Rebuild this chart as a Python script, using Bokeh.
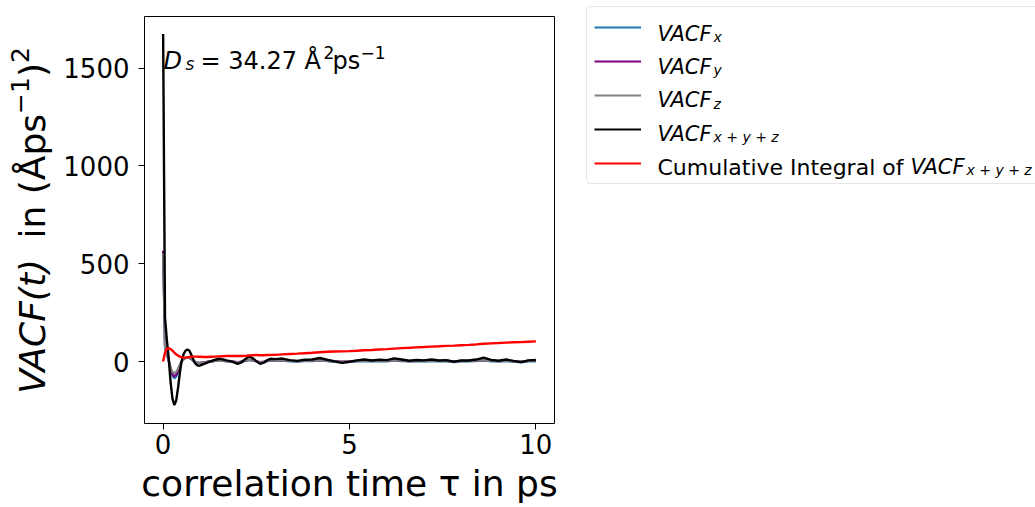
import math

from bokeh.plotting import figure
from bokeh.layouts import row
from bokeh.models import Range1d, FixedTicker, Label, Legend, LegendItem
from bokeh.embed import file_html
from bokeh.resources import INLINE

# correlation time (ps)
tau = [0.00, 0.05, 0.10, 0.15, 0.20, 0.25, 0.30, 0.35, 0.40, 0.45,
       0.50, 0.55, 0.60, 0.65, 0.70, 0.75, 0.80, 0.85, 0.90, 0.95, 1.00,
       1.1, 1.2, 1.3, 1.4, 1.5, 1.6, 1.7, 1.8, 1.9, 2.0,
       2.1, 2.2, 2.3, 2.4, 2.5, 2.6, 2.7, 2.8, 2.9, 3.0,
       3.2, 3.4, 3.6, 3.8, 4.0, 4.2, 4.4, 4.6, 4.8, 5.0,
       5.2, 5.4, 5.6, 5.8, 6.0, 6.2, 6.4, 6.6, 6.8, 7.0,
       7.2, 7.4, 7.6, 7.8, 8.0, 8.2, 8.4, 8.6, 8.8, 9.0,
       9.2, 9.4, 9.6, 9.8, 10.0]

# velocity autocorrelation per Cartesian component, (A/ps)^2
vacf_x = [555, 70, 33, 2, -40, -72, -86, -78, -52, -21,
          1, 13, 19, 21, 19, 13, 5, -2, -6, -8, -7,
          -4, -2, 1, 3, 4, 3, 1, 0, -2, -5,
          -2, 3, 7, 5, 0, -5, -3, 2, 4, 3,
          4, 1, -1, 2, 2, 5, 2, -2, -4, -2,
          1, 2, 0, 2, 1, 4, 2, 0, 2, 1,
          2, 0, 1, -3, 1, 0, 2, 6, 1, 0,
          2, -1, -4, 0, 1]
vacf_y = [567, 82, 40, 7, -35, -64, -77, -68, -46, -19,
          2, 12, 18, 20, 19, 13, 5, -2, -6, -7, -7,
          -4, -1, 1, 3, 6, 5, 3, 1, -1, -3,
          -1, 4, 9, 6, 1, -3, -1, 3, 5, 5,
          6, 3, 2, 4, 4, 7, 4, 2, -1, 1,
          3, 4, 3, 4, 3, 6, 4, 2, 3, 3,
          4, 3, 3, 1, 3, 3, 4, 7, 4, 2,
          4, 2, 0, 3, 4]
vacf_z = [553, 73, 37, 6, -30, -54, -59, -54, -37, -15,
          2, 13, 18, 20, 18, 12, 4, -2, -5, -7, -6,
          -4, -1, 1, 3, 4, 3, 2, 1, -2, -4,
          -1, 5, 9, 6, 1, -4, -2, 3, 5, 4,
          5, 3, 2, 3, 4, 6, 3, 1, -2, 0,
          2, 4, 2, 3, 3, 6, 4, 2, 3, 2,
          4, 2, 3, 1, 2, 2, 4, 7, 3, 2,
          4, 2, 1, 3, 3]
# sum of the three components
vacf_xyz = [1675, 225, 110, 15, -105, -190, -222, -200, -135, -55,
            5, 38, 55, 61, 56, 38, 14, -6, -17, -22, -20,
            -12, -4, 3, 9, 14, 11, 6, 2, -5, -12,
            -4, 12, 25, 17, 2, -12, -6, 8, 14, 12,
            15, 7, 3, 9, 10, 18, 9, 1, -7, -1,
            6, 10, 5, 9, 7, 16, 10, 4, 8, 6,
            10, 5, 7, -1, 6, 5, 10, 20, 8, 4,
            10, 3, -3, 6, 8]
# running integral of vacf_xyz, A^2/ps
cum_int = [0.0, 45.0, 66.0, 68.0, 64.0, 56.0, 46.0, 37.0, 30.0, 25.0,
           22.0, 20.0, 20.0, 21.0, 23.0, 24.0, 25.0, 25.0, 25.0, 24.0, 24.0,
           23.0, 23.0, 24.0, 25.0, 26.0, 27.0, 28.0, 28.0, 28.0, 28.0,
           28.0, 29.0, 31.0, 32.0, 33.0, 32.0, 32.0, 33.0, 34.0, 34.0,
           36.6, 38.6, 40.2, 42.3, 44.5, 47.4, 49.6, 51.0, 51.8, 53.1,
           55.0, 57.3, 59.1, 61.2, 63.2, 66.0, 68.3, 70.0, 72.1, 74.0,
           76.3, 78.1, 80.1, 81.3, 83.2, 85.0, 87.3, 90.5, 92.6, 94.3,
           96.6, 98.2, 99.2, 101.1, 102.81]

x_ticks = [0, 5, 10]
y_ticks = [0, 500, 1000, 1500]

series_colors = ["#1f77b4", "purple", "gray", "black", "red"]

# self-diffusion coefficient, D = (1/3) * integral of the total VACF
d_s = cum_int[-1] / 3.0

FONT = "DejaVu Sans"
W, H = 1035, 507
LEFT_W = 58            # strip holding the y-axis title
MAIN_W = 508           # main plot incl. tick labels and x title
RIGHT_W = W - LEFT_W - MAIN_W
FRAME_L, FRAME_R, FRAME_T, FRAME_B = 144, 554, 16, 423


def unaligned(fig):
    # keep each plot's frame where its own borders put it
    if "frame_align" in fig.properties():
        fig.frame_align = False
    return fig


def blank(width, height):
    f = figure(width=width, height=height, output_backend="svg",
               toolbar_location=None, title=None,
               x_axis_type=None, y_axis_type=None,
               x_range=Range1d(0, 1), y_range=Range1d(0, 1),
               min_border=0)
    f.outline_line_color = None
    f.background_fill_color = "white"
    f.border_fill_color = "white"
    return unaligned(f)


def put(fig, x0, y0, text, X, Y, size, style="normal", angle=0.0):
    """Text run with its left baseline point at page pixel (X, Y);
    (x0, y0) is the page position of the bottom-left of fig's frame."""
    fig.add_layout(Label(
        x=X - x0, y=y0 - Y, x_units="screen", y_units="screen",
        text=text, text_font=FONT, text_font_size=f"{size}px",
        text_font_style=style, text_color="black", level="overlay",
        text_align="left", text_baseline="alphabetic", angle=angle))


# ---- main axes -------------------------------------------------------
p = figure(width=MAIN_W, height=H, output_backend="svg",
           toolbar_location=None, title=None,
           x_range=Range1d(-0.5, 10.5), y_range=Range1d(-317, 1764),
           min_border_left=FRAME_L - LEFT_W,
           min_border_right=LEFT_W + MAIN_W - FRAME_R,
           min_border_top=FRAME_T, min_border_bottom=H - FRAME_B)
unaligned(p)
p.background_fill_color = "white"
p.border_fill_color = "white"
p.outline_line_color = "black"
p.outline_line_width = 1
p.xgrid.visible = False
p.ygrid.visible = False

p.xaxis.ticker = FixedTicker(ticks=x_ticks)
p.yaxis.ticker = FixedTicker(ticks=y_ticks)
for ax in (p.xaxis[0], p.yaxis[0]):
    ax.axis_line_color = None
    ax.major_tick_out = 6
    ax.major_tick_in = 0
    ax.minor_tick_out = 0
    ax.minor_tick_in = 0
    ax.major_tick_line_color = "black"
    ax.major_tick_line_width = 1
    ax.major_label_text_font = FONT
    ax.major_label_text_font_size = "26px"
    ax.major_label_text_color = "black"
p.xaxis.major_label_standoff = 4
p.yaxis.major_label_standoff = 9

p.xaxis.axis_label = "correlation time τ in ps"
p.xaxis.axis_label_text_font = FONT
p.xaxis.axis_label_text_font_size = "36px"
p.xaxis.axis_label_text_font_style = "normal"
p.xaxis.axis_label_text_color = "black"
p.xaxis.axis_label_standoff = 6

for ys, c, w in zip([vacf_x, vacf_y, vacf_z, vacf_xyz, cum_int],
                    series_colors, [2.2, 2.2, 2.2, 2.4, 2.4]):
    p.line(tau, ys, line_color=c, line_width=w)

# diffusion coefficient annotation
pm = (FRAME_L, FRAME_B)
put(p, *pm, "D", 163, 60, 24, "italic")
put(p, *pm, "s", 185, 63.5, 17, "italic")
put(p, *pm, f"= {d_s:.2f} Å", 200, 60, 24)
put(p, *pm, "2", 323, 51.7, 17)
put(p, *pm, "ps", 332, 60, 24)
put(p, *pm, "−1", 360, 51.7, 17)

# ---- y-axis title strip (text reads upward) ---------------------------
ly = blank(LEFT_W, H)
lm = (0, H)
up = math.pi / 2
bx_main, bx_sup = 31.5, 19.5
put(ly, *lm, "VACF(t)", bx_main, 393.3, 36, "italic", up)
put(ly, *lm, "in (Åps", bx_main, 238, 36, "normal", up)
put(ly, *lm, "−1", bx_sup, 113.4, 25, "normal", up)
put(ly, *lm, ")", bx_main, 76.5, 36, "normal", up)
put(ly, *lm, "2", bx_sup, 62.5, 25, "normal", up)

# ---- legend panel ----------------------------------------------------
rg = blank(RIGHT_W, H)
rx0 = LEFT_W + MAIN_W
rm = (rx0, H)
nan = float("nan")
samples = [rg.line(x=[nan], y=[nan], line_color=c, line_width=2.2)
           for c in series_colors]
leg_bottom, leg_left = 184, 586
legend = Legend(
    items=[LegendItem(label=" ", renderers=[r]) for r in samples],
    location=(leg_left - rx0, H - leg_bottom),
    orientation="vertical", padding=7, spacing=8, margin=0,
    glyph_width=47, glyph_height=26, label_height=26, label_width=400,
    label_standoff=10,
    border_line_color="#cccccc", border_line_width=1, border_radius=4,
    background_fill_color=None,
)
rg.add_layout(legend)

rows = [33.3, 66.6, 99.9, 133.2, 166.5]
subs = ["x", "y", "z", "x + y + z"]
for yb, s in zip(rows[:4], subs):
    put(rg, *rm, "VACF", 657, yb, 21, "italic")
    put(rg, *rm, s, 713, yb + 3.2, 14, "italic")
put(rg, *rm, "Cumulative Integral of", 657, rows[4], 22)
put(rg, *rm, "VACF", 910, rows[4], 21, "italic")
put(rg, *rm, "x + y + z", 966, rows[4] + 3.2, 14, "italic")

page = row(ly, p, rg, spacing=0)
open("out.html", "w").write(file_html(page, INLINE, "VACF"))
